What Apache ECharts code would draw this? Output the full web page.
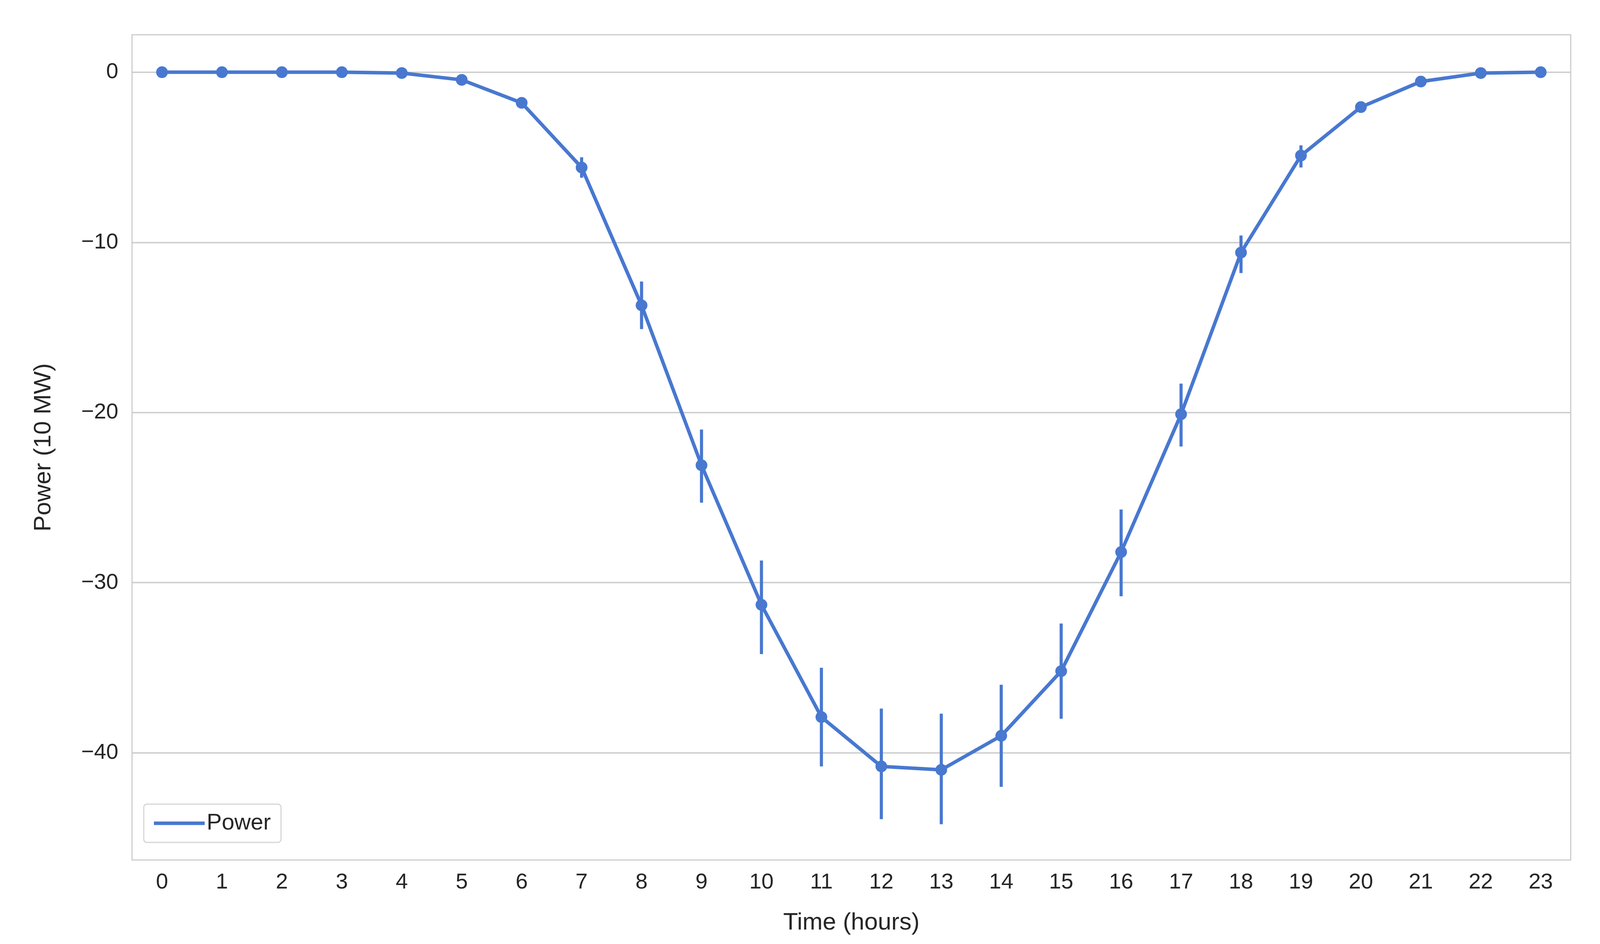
<!DOCTYPE html>
<html>
<head>
<meta charset="utf-8">
<script src="https://cdn.jsdelivr.net/npm/echarts@6/dist/echarts.min.js"></script>
<style>html,body{margin:0;padding:0;background:#fff;overflow:hidden}#chart{width:100vw;height:100vh}</style>
</head>
<body>
<div id="chart"></div>
<script>
var hours = ['0','1','2','3','4','5','6','7','8','9','10','11','12','13','14','15','16','17','18','19','20','21','22','23'];
var power = [0, 0, 0, 0, -0.05, -0.45, -1.8, -5.6, -13.7, -23.1, -31.3, -37.9, -40.8, -41.0, -39.0, -35.2, -28.2, -20.1, -10.6, -4.9, -2.05, -0.55, -0.05, 0];
var errLow = [0, 0, 0, 0, -0.1, -0.6, -2.1, -6.2, -15.1, -25.3, -34.2, -40.8, -43.9, -44.2, -42.0, -38.0, -30.8, -22.0, -11.8, -5.6, -2.3, -0.7, -0.1, 0];
var errHigh = [0, 0, 0, 0, 0, -0.3, -1.5, -5.0, -12.3, -21.0, -28.7, -35.0, -37.4, -37.7, -36.0, -32.4, -25.7, -18.3, -9.6, -4.3, -1.8, -0.4, 0, 0];
var yTicks = [0, -10, -20, -30, -40];

var blue = '#4878d0';
var font = 'Liberation Sans, Arial, sans-serif';
var chart = echarts.init(document.getElementById('chart'));
chart.setOption({
    backgroundColor: '#fff',
    animation: false,
    grid: {left: 338, right: 75, top: 89, bottom: 215, show: true, borderColor: '#cccccc', borderWidth: 3},
    legend: {
        left: 368, top: 2058, padding: [20, 26], borderColor: '#d6d6d6', borderWidth: 3, borderRadius: 8,
        backgroundColor: '#fff', itemWidth: 130, itemHeight: 9, itemGap: 20, icon: 'rect',
        textStyle: {fontSize: 58, color: '#262626', fontFamily: font},
        data: ['Power']
    },
    xAxis: {
        type: 'category', data: hours, boundaryGap: true,
        axisLine: {show: false}, axisTick: {show: false},
        axisLabel: {fontSize: 56, color: '#262626', margin: 30, fontFamily: font},
        name: 'Time (hours)', nameLocation: 'middle', nameGap: 130,
        nameTextStyle: {fontSize: 62, color: '#262626', fontFamily: font}
    },
    yAxis: {
        type: 'value', min: -46.3, max: 2.2,
        axisLine: {show: false}, axisTick: {show: false}, splitLine: {show: false},
        axisLabel: {customValues: yTicks, fontSize: 56, color: '#262626', margin: 35, fontFamily: font,
            formatter: function (v) { return v < 0 ? '\u2212' + Math.abs(v) : String(v); }},
        name: 'Power (10 MW)', nameLocation: 'middle', nameGap: 195,
        nameTextStyle: {fontSize: 62, color: '#262626', fontFamily: font}
    },
    series: [
        {
            name: 'Power', type: 'line', data: power, color: blue,
            symbol: 'circle', symbolSize: 30, z: 3,
            lineStyle: {width: 9, color: blue}, itemStyle: {color: blue},
            markLine: {
                silent: true, symbol: 'none', label: {show: false}, z: 1,
                lineStyle: {color: '#cccccc', width: 3.5, type: 'solid'},
                data: yTicks.map(function (v) { return {yAxis: v}; })
            }
        },
        {
            type: 'custom', z: 4,
            data: hours.map(function (h, i) { return [i, errLow[i], errHigh[i]]; }),
            renderItem: function (params, api) {
                var a = api.coord([api.value(0), api.value(1)]);
                var b = api.coord([api.value(0), api.value(2)]);
                return {type: 'line', shape: {x1: a[0], y1: a[1], x2: b[0], y2: b[1]},
                    style: {stroke: blue, lineWidth: 8}};
            }
        }
    ]
});
</script>
</body>
</html>
